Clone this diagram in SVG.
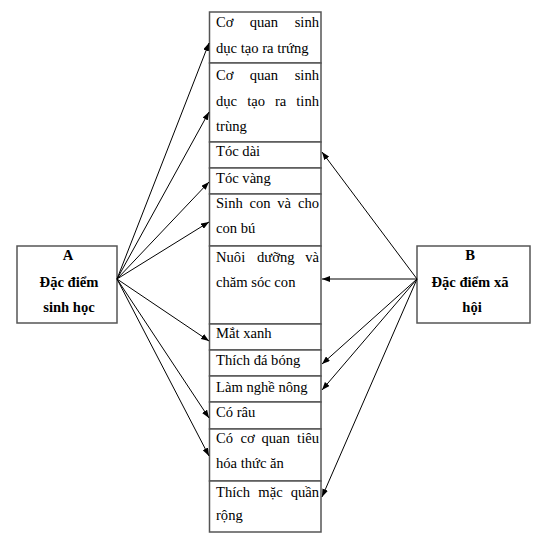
<svg xmlns="http://www.w3.org/2000/svg" width="536" height="542" viewBox="0 0 536 542">
<style>
.bg{fill:#fff}
.cell{fill:#fff;stroke:#555;stroke-width:1.5}
.box{fill:#fff;stroke:#555;stroke-width:1.5}
.t{font-family:"Liberation Serif","Times New Roman",serif;font-size:14.6px;fill:#000}
.b{font-family:"Liberation Serif","Times New Roman",serif;font-size:14.6px;font-weight:bold;fill:#000;text-anchor:middle}
.e{text-anchor:end}
.c{stroke:#000;stroke-width:1;fill:none;marker-end:url(#ah)}
</style>
<defs>
<marker id="ah" viewBox="0 0 8 6" refX="8" refY="3" markerWidth="8" markerHeight="6" markerUnits="userSpaceOnUse" orient="auto">
<path d="M0,0 L8,3 L0,6 z" fill="#000"/>
</marker>
</defs>
<rect class="bg" x="0" y="0" width="536" height="542"/>
<g id="nodeA">
<rect class="box" x="17" y="246" width="100" height="77"/>
<text class="b" x="68" y="260">A</text>
<text class="b" x="69" y="287">Đặc điểm</text>
<text class="b" x="69" y="312">sinh học</text>
</g>
<g id="nodeB">
<rect class="box" x="417" y="246" width="113" height="77"/>
<text class="b" x="470" y="260">B</text>
<text class="b" x="470" y="287">Đặc điểm xã</text>
<text class="b" x="472" y="312">hội</text>
</g>
<g id="r1">
<rect class="cell" x="209.5" y="12" width="111.5" height="51"/>
<text class="t" x="216" y="27">Cơ</text><text class="t" x="249.7" y="27">quan</text><text class="t e" x="319" y="27">sinh</text>
<text class="t" x="216" y="53">dục tạo ra trứng</text>
</g>
<g id="r2">
<rect class="cell" x="209.5" y="63" width="111.5" height="79"/>
<text class="t" x="216" y="80">Cơ</text><text class="t" x="249.7" y="80">quan</text><text class="t e" x="319" y="80">sinh</text>
<text class="t" x="216" y="106">dục</text><text class="t" x="247.2" y="106">tạo</text><text class="t" x="275" y="106">ra</text><text class="t e" x="319" y="106">tinh</text>
<text class="t" x="216" y="131">trùng</text>
</g>
<g id="r3">
<rect class="cell" x="209.5" y="142" width="111.5" height="26"/>
<text class="t" x="216" y="156">Tóc dài</text>
</g>
<g id="r4">
<rect class="cell" x="209.5" y="168" width="111.5" height="26"/>
<text class="t" x="216" y="183">Tóc vàng</text>
</g>
<g id="r5">
<rect class="cell" x="209.5" y="194" width="111.5" height="52"/>
<text class="t" x="216" y="208">Sinh</text><text class="t" x="249.5" y="208">con</text><text class="t" x="277.2" y="208">và</text><text class="t e" x="319" y="208">cho</text>
<text class="t" x="216" y="233">con bú</text>
</g>
<g id="r6">
<rect class="cell" x="209.5" y="246" width="111.5" height="78"/>
<text class="t" x="216" y="262">Nuôi</text><text class="t" x="257" y="262">dưỡng</text><text class="t e" x="319" y="262">và</text>
<text class="t" x="216" y="287">chăm sóc con</text>
</g>
<g id="r7">
<rect class="cell" x="209.5" y="324" width="111.5" height="26"/>
<text class="t" x="216" y="338">Mắt xanh</text>
</g>
<g id="r8">
<rect class="cell" x="209.5" y="350" width="111.5" height="26"/>
<text class="t" x="216" y="365">Thích đá bóng</text>
</g>
<g id="r9">
<rect class="cell" x="209.5" y="376" width="111.5" height="26"/>
<text class="t" x="216" y="392">Làm nghề nông</text>
</g>
<g id="r10">
<rect class="cell" x="209.5" y="402" width="111.5" height="27"/>
<text class="t" x="216" y="417">Có râu</text>
</g>
<g id="r11">
<rect class="cell" x="209.5" y="429" width="111.5" height="52"/>
<text class="t" x="216" y="443">Có</text><text class="t" x="240.5" y="443">cơ</text><text class="t" x="261.5" y="443">quan</text><text class="t e" x="319" y="443">tiêu</text>
<text class="t" x="216" y="468">hóa thức ăn</text>
</g>
<g id="r12">
<rect class="cell" x="209.5" y="481" width="111.5" height="51"/>
<text class="t" x="216" y="497">Thích</text><text class="t" x="258.3" y="497">mặc</text><text class="t e" x="319" y="497">quần</text>
<text class="t" x="216" y="520">rộng</text>
</g>
<g id="connectors">
<line class="c" x1="117" y1="279" x2="209" y2="43"/>
<line class="c" x1="117" y1="279" x2="209" y2="112"/>
<line class="c" x1="117" y1="279" x2="209" y2="182"/>
<line class="c" x1="117" y1="279" x2="209" y2="222"/>
<line class="c" x1="117" y1="279" x2="209" y2="341"/>
<line class="c" x1="117" y1="279" x2="209" y2="418"/>
<line class="c" x1="117" y1="279" x2="209" y2="456"/>
<line class="c" x1="417" y1="279" x2="322" y2="152"/>
<line class="c" x1="417" y1="279" x2="322" y2="279"/>
<line class="c" x1="417" y1="279" x2="322" y2="364"/>
<line class="c" x1="417" y1="279" x2="322" y2="390"/>
<line class="c" x1="417" y1="279" x2="322" y2="497"/>
</g>
</svg>
